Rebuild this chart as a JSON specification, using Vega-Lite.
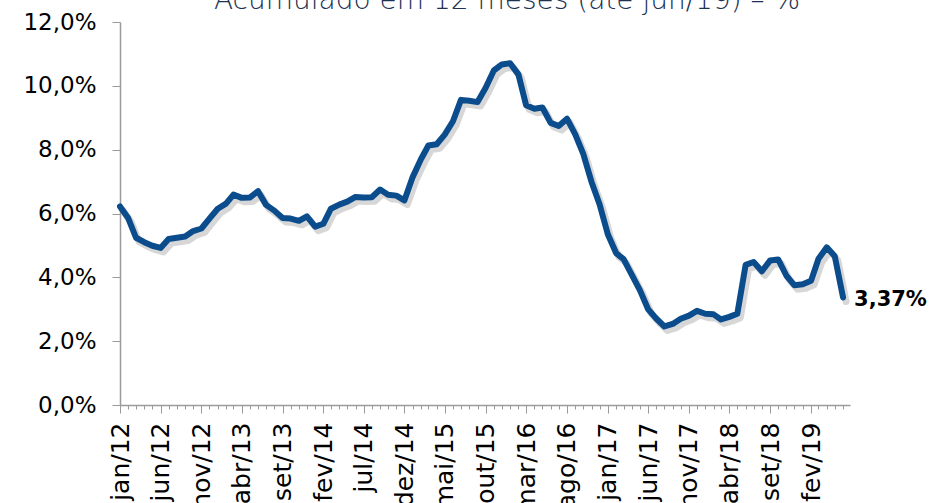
{
  "$schema": "https://vega.github.io/schema/vega-lite/v6.json",
  "autosize": {"type": "none"},
  "width": 730,
  "height": 383,
  "padding": {"left": 120, "top": 22, "right": 80, "bottom": 98},
  "background": "white",
  "title": {
    "text": "Acumulado em 12 meses (até jun/19) – %",
    "anchor": "middle",
    "dx": 22,
    "offset": -4,
    "font": "DejaVu Sans",
    "fontSize": 28,
    "fontWeight": 200,
    "color": "#1c3153"
  },
  "data": {
    "values": [
      {"mes": "2012-01", "v": 6.22}, {"mes": "2012-02", "v": 5.85}, {"mes": "2012-03", "v": 5.24}, {"mes": "2012-04", "v": 5.10},
      {"mes": "2012-05", "v": 4.99}, {"mes": "2012-06", "v": 4.92}, {"mes": "2012-07", "v": 5.20}, {"mes": "2012-08", "v": 5.24},
      {"mes": "2012-09", "v": 5.28}, {"mes": "2012-10", "v": 5.45}, {"mes": "2012-11", "v": 5.53}, {"mes": "2012-12", "v": 5.84},
      {"mes": "2013-01", "v": 6.15}, {"mes": "2013-02", "v": 6.31}, {"mes": "2013-03", "v": 6.59}, {"mes": "2013-04", "v": 6.49},
      {"mes": "2013-05", "v": 6.50}, {"mes": "2013-06", "v": 6.70}, {"mes": "2013-07", "v": 6.27}, {"mes": "2013-08", "v": 6.09},
      {"mes": "2013-09", "v": 5.86}, {"mes": "2013-10", "v": 5.84}, {"mes": "2013-11", "v": 5.77}, {"mes": "2013-12", "v": 5.91},
      {"mes": "2014-01", "v": 5.59}, {"mes": "2014-02", "v": 5.68}, {"mes": "2014-03", "v": 6.15}, {"mes": "2014-04", "v": 6.28},
      {"mes": "2014-05", "v": 6.37}, {"mes": "2014-06", "v": 6.52}, {"mes": "2014-07", "v": 6.50}, {"mes": "2014-08", "v": 6.51},
      {"mes": "2014-09", "v": 6.75}, {"mes": "2014-10", "v": 6.59}, {"mes": "2014-11", "v": 6.56}, {"mes": "2014-12", "v": 6.41},
      {"mes": "2015-01", "v": 7.14}, {"mes": "2015-02", "v": 7.70}, {"mes": "2015-03", "v": 8.13}, {"mes": "2015-04", "v": 8.17},
      {"mes": "2015-05", "v": 8.47}, {"mes": "2015-06", "v": 8.89}, {"mes": "2015-07", "v": 9.56}, {"mes": "2015-08", "v": 9.53},
      {"mes": "2015-09", "v": 9.49}, {"mes": "2015-10", "v": 9.93}, {"mes": "2015-11", "v": 10.48}, {"mes": "2015-12", "v": 10.67},
      {"mes": "2016-01", "v": 10.71}, {"mes": "2016-02", "v": 10.36}, {"mes": "2016-03", "v": 9.39}, {"mes": "2016-04", "v": 9.28},
      {"mes": "2016-05", "v": 9.32}, {"mes": "2016-06", "v": 8.84}, {"mes": "2016-07", "v": 8.74}, {"mes": "2016-08", "v": 8.97},
      {"mes": "2016-09", "v": 8.48}, {"mes": "2016-10", "v": 7.87}, {"mes": "2016-11", "v": 6.99}, {"mes": "2016-12", "v": 6.29},
      {"mes": "2017-01", "v": 5.35}, {"mes": "2017-02", "v": 4.76}, {"mes": "2017-03", "v": 4.57}, {"mes": "2017-04", "v": 4.08},
      {"mes": "2017-05", "v": 3.60}, {"mes": "2017-06", "v": 3.00}, {"mes": "2017-07", "v": 2.71}, {"mes": "2017-08", "v": 2.46},
      {"mes": "2017-09", "v": 2.54}, {"mes": "2017-10", "v": 2.70}, {"mes": "2017-11", "v": 2.80}, {"mes": "2017-12", "v": 2.95},
      {"mes": "2018-01", "v": 2.86}, {"mes": "2018-02", "v": 2.84}, {"mes": "2018-03", "v": 2.68}, {"mes": "2018-04", "v": 2.76},
      {"mes": "2018-05", "v": 2.86}, {"mes": "2018-06", "v": 4.39}, {"mes": "2018-07", "v": 4.48}, {"mes": "2018-08", "v": 4.19},
      {"mes": "2018-09", "v": 4.53}, {"mes": "2018-10", "v": 4.56}, {"mes": "2018-11", "v": 4.05}, {"mes": "2018-12", "v": 3.75},
      {"mes": "2019-01", "v": 3.78}, {"mes": "2019-02", "v": 3.89}, {"mes": "2019-03", "v": 4.58}, {"mes": "2019-04", "v": 4.94},
      {"mes": "2019-05", "v": 4.66}, {"mes": "2019-06", "v": 3.37, "rotulo": "3,37%"}
    ]
  },
  "encoding": {
    "x": {
      "field": "mes",
      "type": "temporal",
      "timeUnit": "utcyearmonth",
      "scale": {
        "type": "utc",
        "domain": [
          {"year": 2012, "month": 1, "date": 1, "utc": true},
          {"year": 2019, "month": 6, "date": 27, "utc": true}
        ]
      },
      "axis": {
        "title": null,
        "grid": false,
        "tickCount": {"interval": "month", "step": 1},
        "labelExpr": "((utcyear(datum.value) - 2012) * 12 + utcmonth(datum.value)) % 5 == 0 ? utcFormat(datum.value, '%b/%y') : ''",
        "labelOverlap": false,
        "labelAngle": -90,
        "labelAlign": "right",
        "labelBaseline": "middle",
        "labelFont": "DejaVu Sans",
        "labelFontSize": 25,
        "labelColor": "#000000",
        "labelPadding": 9,
        "labelFlush": false,
        "domainColor": "#9a9a9a",
        "domainWidth": 1.5,
        "tickColor": "#9a9a9a",
        "tickWidth": 1,
        "tickSize": {"condition": {"test": "((utcyear(datum.value) - 2012) * 12 + utcmonth(datum.value)) % 5 == 0", "value": 8}, "value": 4}
      }
    },
    "y": {
      "field": "v",
      "type": "quantitative",
      "scale": {"domain": [0, 12], "nice": false},
      "axis": {
        "title": null,
        "grid": false,
        "values": [0, 2, 4, 6, 8, 10, 12],
        "format": ".1f",
        "labelExpr": "datum.label + '%'",
        "labelFont": "DejaVu Sans",
        "labelFontSize": 23,
        "labelColor": "#000000",
        "labelPadding": 16,
        "domainColor": "#9a9a9a",
        "domainWidth": 1.5,
        "tickColor": "#9a9a9a",
        "tickSize": 8
      }
    }
  },
  "layer": [
    {
      "mark": {"type": "line", "color": "#7a7a7a", "opacity": 0.3, "strokeWidth": 7, "xOffset": 3, "yOffset": 4, "strokeJoin": "round", "strokeCap": "round"}
    },
    {
      "mark": {"type": "line", "color": "#0b4c8c", "strokeWidth": 6, "strokeJoin": "round", "strokeCap": "round"}
    },
    {
      "transform": [{"filter": "isValid(datum.rotulo)"}],
      "mark": {"type": "text", "align": "left", "baseline": "middle", "dx": 11, "dy": 3, "font": "DejaVu Sans", "fontSize": 21, "fontWeight": "bold", "color": "#000000"},
      "encoding": {"text": {"field": "rotulo"}}
    }
  ],
  "config": {
    "view": {"stroke": null},
    "locale": {
      "number": {"decimal": ",", "thousands": ".", "grouping": [3], "currency": ["R$", ""]},
      "time": {
        "dateTime": "%A, %e de %B de %Y. %X",
        "date": "%d/%m/%Y",
        "time": "%H:%M:%S",
        "periods": ["AM", "PM"],
        "days": ["Domingo", "Segunda", "Terça", "Quarta", "Quinta", "Sexta", "Sábado"],
        "shortDays": ["Dom", "Seg", "Ter", "Qua", "Qui", "Sex", "Sáb"],
        "months": ["Janeiro", "Fevereiro", "Março", "Abril", "Maio", "Junho", "Julho", "Agosto", "Setembro", "Outubro", "Novembro", "Dezembro"],
        "shortMonths": ["jan", "fev", "mar", "abr", "mai", "jun", "jul", "ago", "set", "out", "nov", "dez"]
      }
    }
  }
}
